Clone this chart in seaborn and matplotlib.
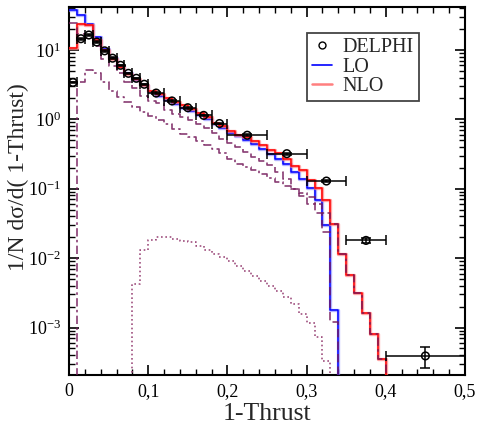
import numpy as np
import matplotlib
matplotlib.use("Agg")
import matplotlib.pyplot as plt
from matplotlib.lines import Line2D
from matplotlib.ticker import MultipleLocator, LogLocator, LogFormatterSciNotation, NullFormatter
import seaborn as sns

# ---- binning (0.01 wide bins from 0 to 0.40) ----
bin_edges = np.linspace(0.0, 0.40, 41)

# ---- theory histograms, one value per bin ----
lo = [38, 31.6, 24, 15.3, 10.4, 7.7, 5.8, 4.6, 3.7, 3.09,
      2.47, 2.2, 1.92, 1.68, 1.48, 1.3, 1.14, 1.0, 0.87, 0.76,
      0.635, 0.57, 0.50, 0.436, 0.378, 0.32, 0.27, 0.225, 0.176, 0.136,
      0.103, 0.068, 0.0297, 0.0018, 0, 0, 0, 0, 0, 0]

nlo = [10.5, 23.4, 22.5, 14, 9.9, 7.5, 5.7, 4.5, 3.75, 3.15,
       2.6, 2.3, 2.05, 1.8, 1.6, 1.42, 1.25, 1.08, 0.88, 0.79,
       0.68, 0.59, 0.556, 0.48, 0.42, 0.357, 0.33, 0.27, 0.21, 0.184,
       0.135, 0.104, 0.068, 0.031, 0.0113, 0.0058, 0.0031, 0.00164, 8.2e-4, 3.5e-4]

comp_a = [24.6, 17, 15, 11.5, 7.4, 5.9, 4.6, 3.5, 2.8, 2.2,
          1.85, 1.7, 1.35, 1.2, 1.08, 0.97, 0.86, 0.76, 0.63, 0.52,
          0.45, 0.40, 0.34, 0.29, 0.25, 0.22, 0.174, 0.14, 0.10, 0.078,
          0.06, 0.045, 0.024, 0.0012, 0, 0, 0, 0, 0, 0]

comp_b = [0, 3.5, 5.2, 4.7, 3.4, 2.6, 2.1, 1.75, 1.5, 1.27,
          1.12, 0.97, 0.85, 0.72, 0.62, 0.55, 0.48, 0.42, 0.37, 0.33,
          0.27, 0.23, 0.205, 0.185, 0.165, 0.145, 0.125, 0.11, 0.10, 0.087,
          0.075, 0.06, 0.045, 0.031, 0.0113, 0.0058, 0.0031, 0.00164, 8.2e-4, 3.5e-4]

comp_c = [0, 0, 0, 0, 0, 0, 0, 0, 0.0043, 0.0132,
          0.018, 0.0201, 0.020, 0.019, 0.0177, 0.0168, 0.0149, 0.0130, 0.0116, 0.0104,
          0.0090, 0.0077, 0.0065, 0.0056, 0.0047, 0.0040, 0.0034, 0.0028, 0.0022, 0.00158,
          0.00116, 7.3e-4, 3.3e-4, 0, 0, 0, 0, 0, 0, 0]

# ---- DELPHI measurement ----
delphi_x = [0.005, 0.015, 0.025, 0.035, 0.045, 0.055, 0.065, 0.075, 0.085, 0.095,
            0.11, 0.13, 0.15, 0.17, 0.19, 0.225, 0.275, 0.325, 0.375, 0.45]
delphi_xhw = [0.005] * 10 + [0.01] * 5 + [0.025] * 4 + [0.05]
delphi_y = [3.4, 14.5, 16.4, 13.0, 9.7, 7.6, 6.0, 4.6, 3.9, 3.2,
            2.39, 1.84, 1.47, 1.14, 0.87, 0.59, 0.32, 0.129, 0.018, 3.9e-4]
delphi_yerr = [0.1, 0.4, 0.4, 0.3, 0.25, 0.2, 0.15, 0.12, 0.1, 0.08,
               0.06, 0.05, 0.04, 0.03, 0.025, 0.015, 0.01, 0.005, 0.0015, 1.3e-4]

x_ticks = [0, 0.1, 0.2, 0.3, 0.4, 0.5]
x_ticklabels = ["0", "0,1", "0,2", "0,3", "0,4", "0,5"]

sns.set_style("ticks")
plt.rcParams["font.family"] = ["Liberation Serif", "DejaVu Serif"]
plt.rcParams["mathtext.fontset"] = "custom"
plt.rcParams["mathtext.rm"] = "Liberation Serif"
plt.rcParams["mathtext.it"] = "Liberation Serif:italic"

fig = plt.figure(figsize=(4.79, 4.28), dpi=100)
ax = fig.add_axes([0.1441, 0.1238, 0.8267, 0.8598])


def step_line(values, **kw):
    ys = np.append(np.asarray(values, dtype=float), 0.0)
    sns.lineplot(x=bin_edges, y=ys, drawstyle="steps-post", estimator=None,
                 sort=False, ax=ax, legend=False, **kw)


purple = "#74195a"
step_line(lo, color="#8080ff", lw=2.4, alpha=0.6, zorder=3)
step_line(lo, color="#0000ff", lw=1.1, zorder=3)
step_line(nlo, color="#ff8080", lw=2.4, alpha=0.7, zorder=4)
step_line(nlo, color="#ff0000", lw=1.1, zorder=4)
# components, drawn above the totals so their dashes stay visible
step_line(comp_c, color="#a0507f", lw=1.2, linestyle=(0, (1, 1.6)), zorder=5)
step_line(comp_b, color=purple, lw=1.2, linestyle=(0, (5, 2, 1.5, 2)), alpha=0.85, zorder=5)
step_line(comp_a, color=purple, lw=1.2, linestyle=(0, (5, 2.5)), alpha=0.85, zorder=5)

ax.errorbar(delphi_x, delphi_y, xerr=delphi_xhw, yerr=delphi_yerr, fmt="none",
            ecolor="black", elinewidth=1.1, capsize=3.8, capthick=1.1, zorder=6)
sns.scatterplot(x=delphi_x, y=delphi_y, marker="o", s=30, facecolor="none",
                edgecolor="black", linewidth=1.1, ax=ax, zorder=7, legend=False)

ax.set_yscale("log", nonpositive="clip")
ax.set_xlim(0, 0.5)
ax.set_ylim(2.07e-4, 41.5)

ax.set_xticks(x_ticks)
ax.set_xticklabels(x_ticklabels)
ax.xaxis.set_minor_locator(MultipleLocator(0.02))
ax.yaxis.set_major_locator(LogLocator(base=10, numticks=20))
ax.yaxis.set_major_formatter(LogFormatterSciNotation())
ax.yaxis.set_minor_locator(LogLocator(base=10, subs=np.arange(2, 10), numticks=20))
ax.yaxis.set_minor_formatter(NullFormatter())

ax.tick_params(which="both", direction="in", top=True, right=True, colors="black",
               labelsize=13)
ax.tick_params(which="major", length=7, width=1.2, pad=6)
ax.tick_params(which="minor", length=4, width=1.0)
for sp in ax.spines.values():
    sp.set_linewidth(1.5)
    sp.set_color("black")

ax.set_xlabel("1-Thrust", fontsize=18.5, labelpad=2)
ax.set_ylabel("1/N d\u03c3/d( 1-Thrust)", fontsize=17)
ax.yaxis.set_label_coords(-0.10, 0.537)

handles = [
    Line2D([], [], marker="o", ls="none", mfc="none", mec="black", ms=5, mew=1.0),
    Line2D([], [], color="#0000ff", lw=1.2),
    Line2D([], [], color="#ff7f7f", lw=1.8),
]
leg = ax.legend(handles, ["DELPHI", "LO", "NLO"], loc="upper left",
                bbox_to_anchor=(0.600, 0.9285), borderaxespad=0, fontsize=14.5,
                handlelength=1.0, handletextpad=0.55, labelspacing=0.0,
                borderpad=0.25, fancybox=False, framealpha=1, edgecolor="#444444")
leg.get_frame().set_linewidth(1.3)

fig.savefig("out.png", dpi=100)
